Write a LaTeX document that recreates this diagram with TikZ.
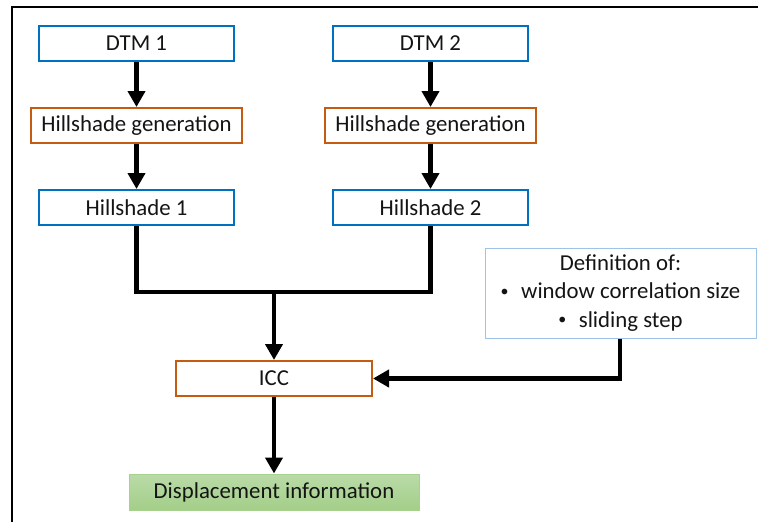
\documentclass[tikz,border=0pt]{standalone}
\usepackage{fontspec}
\setmainfont{Carlito}
\usetikzlibrary{arrows.meta}
\definecolor{boxblue}{RGB}{0,112,192}
\definecolor{boxorange}{RGB}{197,90,17}
\definecolor{paleblue}{RGB}{157,195,230}
\definecolor{greentop}{RGB}{186,219,168}
\definecolor{greenbot}{RGB}{163,206,137}
\definecolor{greenline}{RGB}{169,209,142}
\definecolor{txt}{RGB}{20,20,20}
% small list bullet followed by a short gap
\newcommand{\itemdot}{\raisebox{0.12em}{\fontsize{16}{16}\selectfont\textbullet}\hspace{0.55em}}
\tikzset{
  base/.style={minimum height=35pt, inner sep=0pt, line width=2pt, text=txt,
    font=\fontsize{22.8}{28.5}\selectfont},
  bluebox/.style={base, draw=boxblue, minimum width=195pt},
  orangebox/.style={base, draw=boxorange, minimum width=211pt},
  iccbox/.style={base, draw=boxorange, minimum width=196pt},
  greenbox/.style={base, draw=greenline, line width=1pt, top color=greentop,
    bottom color=greenbot, minimum width=290pt, minimum height=36pt},
  notebox/.style={base, draw=paleblue, line width=1pt, minimum width=271pt,
    minimum height=90pt, align=center},
  flow/.style={line width=4.5pt, -{Triangle[length=16pt,width=17pt]}},
  link/.style={line width=4.5pt}
}
\begin{document}
\begin{tikzpicture}[x=1pt,y=-1pt]
\useasboundingbox (0,0) rectangle (758,522);
% frame
\draw[line width=2.5pt] (12,522) -- (12,7) -- (758,7);

% left column
\node[bluebox]   (dtma) at (136.5,43.5)  {DTM 1};
\node[orangebox] (hga)  at (136.5,125.5) {Hillshade generation};
\node[bluebox]   (hsa)  at (136.5,207.5) {Hillshade 1};
% right column
\node[bluebox]   (dtmb) at (430.5,43.5)  {DTM 2};
\node[orangebox] (hgb)  at (430.5,125.5) {Hillshade generation};
\node[bluebox]   (hsb)  at (430.5,207.5) {Hillshade 2};

% correlation and result
\node[iccbox]   (icc)  at (274,378.5) {ICC};
\node[greenbox] (disp) at (274,492)   {Displacement information};
\node[notebox]  (defn) at (620.5,293)
  {Definition of:\\ \itemdot window correlation size\\ \itemdot sliding step};

\coordinate (jn) at (274,292);
\coordinate (turn) at (620,378.5);

\draw[flow] (dtma) -- (hga);
\draw[flow] (hga) -- (hsa);
\draw[flow] (dtmb) -- (hgb);
\draw[flow] (hgb) -- (hsb);
\draw[link, line join=miter] (hsa.south) -- (hsa.south |- jn) -- (hsb.south |- jn) -- (hsb.south);
\draw[flow] (jn) -- (icc.north);
\draw[flow, line join=miter] (defn.south -| turn) -- (turn) -- (icc.east);
\draw[flow] (icc) -- (disp);
\end{tikzpicture}
\end{document}
